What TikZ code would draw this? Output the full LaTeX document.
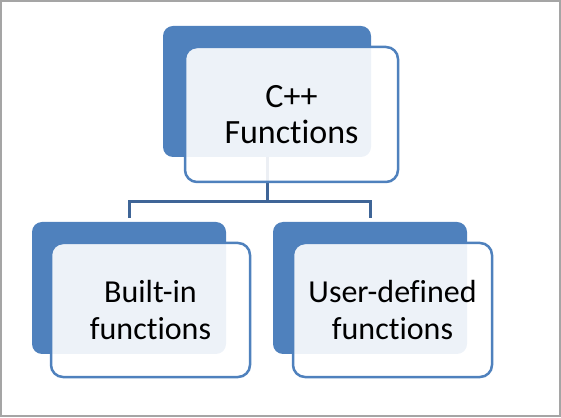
\documentclass[tikz,border=0pt]{standalone}
\usepackage{fontspec}
\setmainfont{Carlito}[Ligatures=NoCommon]

\definecolor{accent}{RGB}{79,129,189}
\definecolor{linkblue}{RGB}{63,101,151}
\definecolor{framegray}{RGB}{165,165,165}

\tikzset{
	backbox/.style={fill=accent, rounded corners=10pt, inner sep=0pt},
	frontbox/.style={draw=accent, line width=2.5pt, fill=white, fill opacity=.9,
		text opacity=1, rounded corners=12pt, inner sep=0pt, align=center},
	link/.style={draw=linkblue, line width=3pt}
}

\begin{document}
\begin{tikzpicture}[x=1pt, y=1pt]

		\useasboundingbox (0,0) rectangle (561,417);
		\draw [framegray, line width=2pt] (1,1) rectangle (560,416);

		% back boxes
		\node [backbox, minimum width=208pt, minimum height=131pt] (top) at (267,325.5) {};
		\node [backbox, minimum width=194pt, minimum height=132pt] (left) at (129,129) {};
		\node [backbox, minimum width=194pt, minimum height=132pt] (right) at (370,129) {};

		% connectors
		\coordinate (bus) at (267,215.5);
		\draw [link] (top.south) -- (bus);
		\draw [link, shorten >=4pt] (bus) -| (left.north);
		\draw [link, shorten >=4pt] (bus) -| (right.north);

		% front boxes
		\node [frontbox, minimum width=213pt, minimum height=135pt,%
		font=\fontsize{34}{36}\selectfont] (topfront) at (291.5,302.5)%
		{C++\\ Functions};

		\node [frontbox, minimum width=199pt, minimum height=134pt,%
		font=\fontsize{32}{37}\selectfont] (leftfront) at (150.5,107)%
		{Built-in\\ functions};

		\node [frontbox, minimum width=199pt, minimum height=134pt,%
		font=\fontsize{32}{37}\selectfont] (rightfront) at (392.5,107)%
		{User-defined\\ functions};
	\end{tikzpicture}
\end{document}
